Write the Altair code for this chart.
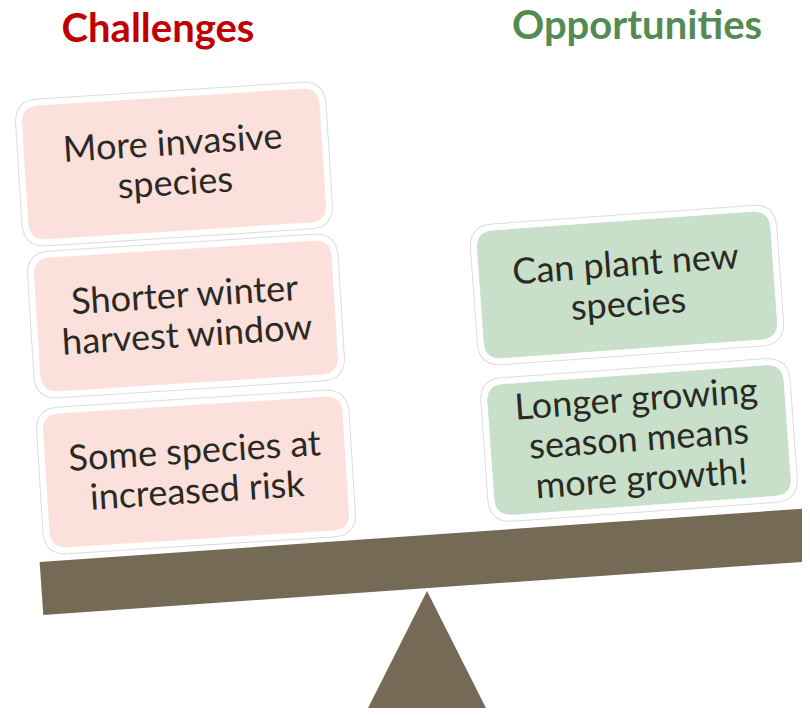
import math
import altair as alt
import pandas as pd

# ---- content -------------------------------------------------------------
titles = ["Challenges", "Opportunities"]
title_colors = ["#C00000", "#538B52"]
challenges = ["More invasive\nspecies", "Shorter winter\nharvest window", "Some species at\nincreased risk"]
opportunities = ["Can plant new\nspecies", "Longer growing\nseason means\nmore growth!"]

# ---- layout (diagram geometry, in page pixels) ---------------------------
title_x = [158, 637]
title_y = [42, 39]
chal_x = [174, 186, 196]
chal_y = [164, 316, 472]
chal_w = [304, 304, 306]
chal_h = [140, 140, 140]
opp_x = [627, 639]
opp_y = [285, 440]
opp_w = [300, 303]
opp_h = [134, 137]
chal_tilt = 356.4
opp_tilt = 355.9
beam_x, beam_y, beam_len, beam_thick, beam_tilt = 440.5, 560.6, 800, 53, 356.0
fulcrum_x, fulcrum_y, fulcrum_h, fulcrum_half = 427, 671, 160, 80.6

PINK, GREEN, BROWN = "#FBE0DB", "#C8DFCA", "#746A56"
TEXT = "#2A2A24"
FONT_SIZE, LINE_H = 36, 40
W, H = 794, 700


def rounded_rect_path(w, h, r):
    s = max(w, h)
    a, b, k = w / s, h / s, 2 * r / s
    f = lambda v: f"{v:.4f}"
    return (f"M{f(-a+k)},{f(-b)}L{f(a-k)},{f(-b)}Q{f(a)},{f(-b)},{f(a)},{f(-b+k)}"
            f"L{f(a)},{f(b-k)}Q{f(a)},{f(b)},{f(a-k)},{f(b)}"
            f"L{f(-a+k)},{f(b)}Q{f(-a)},{f(b)},{f(-a)},{f(b-k)}"
            f"L{f(-a)},{f(-b+k)}Q{f(-a)},{f(-b)},{f(-a+k)},{f(-b)}Z"), s * s


def text_anchor(x, y, text, tilt):
    # Vega puts the first line at the anchor; move the anchor up (in the
    # rotated frame) so that the whole block is centred on the box.
    n = text.count("\n") + 1
    d = (n - 1) * LINE_H / 2
    phi = math.radians(tilt - 360)
    return x - d * (-math.sin(phi)), y - d * math.cos(phi)


rows = []
for t, x, y, w, h in zip(challenges, chal_x, chal_y, chal_w, chal_h):
    p, sz = rounded_rect_path(w, h, 20)
    tx, ty = text_anchor(x, y, t, chal_tilt)
    rows.append(dict(text=t, x=x, y=y, tx=tx, ty=ty, path=p, size=sz, angle=chal_tilt, fill=PINK))
for t, x, y, w, h in zip(opportunities, opp_x, opp_y, opp_w, opp_h):
    p, sz = rounded_rect_path(w, h, 20)
    tx, ty = text_anchor(x, y, t, opp_tilt)
    rows.append(dict(text=t, x=x, y=y, tx=tx, ty=ty, path=p, size=sz, angle=opp_tilt, fill=GREEN))
boxes = pd.DataFrame(rows)

bp, bs = rounded_rect_path(beam_len, beam_thick, 0.01)
tri_a = fulcrum_half / (fulcrum_h / 2)
solids = pd.DataFrame([
    dict(x=beam_x, y=beam_y, path=bp, size=bs, angle=beam_tilt),
    dict(x=fulcrum_x, y=fulcrum_y, path=f"M0,-1L{tri_a:.4f},1L{-tri_a:.4f},1Z",
         size=fulcrum_h ** 2, angle=0),
])

title_df = pd.DataFrame(dict(text=titles, x=title_x, y=title_y, color=title_colors))

xs = alt.Scale(domain=[8, 8 + W], nice=False, zero=False)
ys = alt.Scale(domain=[8 + H, 8], nice=False, zero=False)
X = alt.X("x:Q", scale=xs, axis=None)
Y = alt.Y("y:Q", scale=ys, axis=None)
TX = alt.X("tx:Q", scale=xs, axis=None)
TY = alt.Y("ty:Q", scale=ys, axis=None)
shape_enc = dict(
    x=X, y=Y,
    shape=alt.Shape("path:N", scale=None, legend=None),
    size=alt.Size("size:Q", scale=None, legend=None),
    angle=alt.Angle("angle:Q", scale=None),
)

solid_layer = alt.Chart(solids).mark_point(
    filled=True, opacity=1, color=BROWN, strokeWidth=0
).encode(**shape_enc)

box_outline = alt.Chart(boxes).mark_point(
    filled=False, opacity=1, stroke="#DCDCDC", strokeWidth=8
).encode(**shape_enc)

box_fill = alt.Chart(boxes).mark_point(
    filled=True, opacity=1, stroke="white", strokeWidth=6
).encode(**shape_enc, fill=alt.Fill("fill:N", scale=None, legend=None))

chal_text = alt.Chart(boxes[boxes.fill == PINK]).mark_text(
    font="Lato", fontSize=FONT_SIZE, color=TEXT, lineBreak="\n", lineHeight=LINE_H,
    align="center", baseline="middle", angle=chal_tilt,
).encode(x=TX, y=TY, text="text:N")

opp_text = alt.Chart(boxes[boxes.fill == GREEN]).mark_text(
    font="Lato", fontSize=FONT_SIZE, color=TEXT, lineBreak="\n", lineHeight=LINE_H,
    align="center", baseline="middle", angle=opp_tilt,
).encode(x=TX, y=TY, text="text:N")

title_layer = alt.Chart(title_df).mark_text(
    font="Lato", fontSize=40, fontWeight="bold", align="center", baseline="alphabetic"
).encode(x=X, y=Y, text="text:N", color=alt.Color("color:N", scale=None, legend=None))

chart = alt.layer(
    solid_layer, box_outline, box_fill, chal_text, opp_text, title_layer
).properties(
    width=W, height=H, padding=0, autosize=alt.AutoSizeParams(type="none"),
    background="white",
).configure_view(stroke=None)

chart.save("out.html", embed_options={"renderer": "svg", "actions": False})
